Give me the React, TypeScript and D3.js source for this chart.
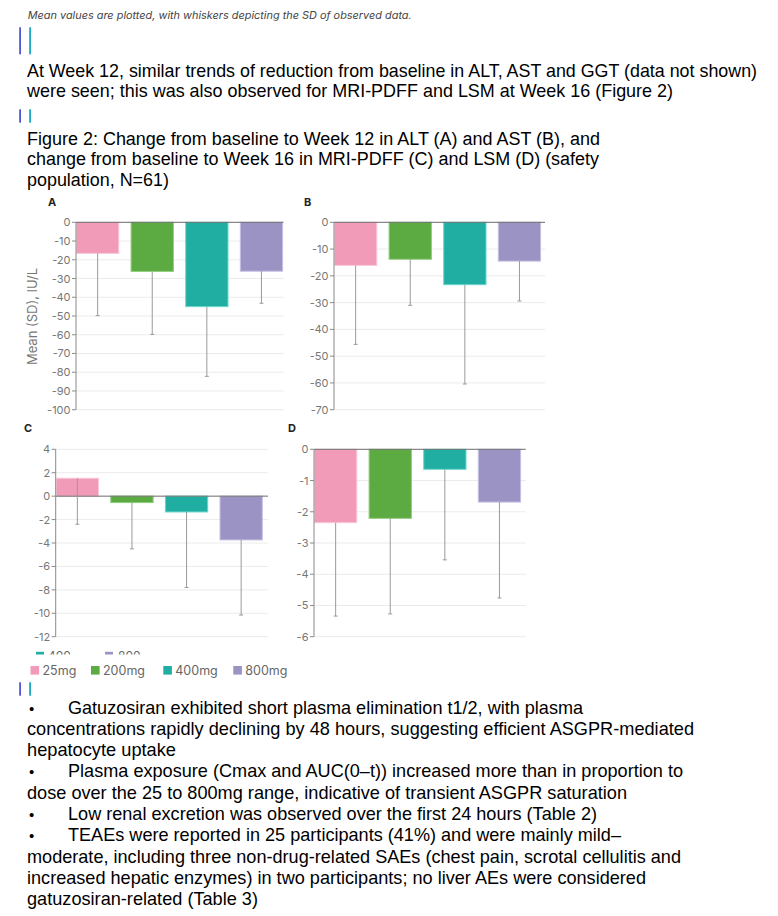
import React from 'react';
import * as d3 from 'd3';

const doses = ['25mg', '200mg', '400mg', '800mg'];
const doseColors = ['#f29bb9', '#5caa42', '#20aea2', '#9b93c4'];
const doseStroke = ['#f9c9da', '#8fcc7a', '#6ad6cb', '#c6c0e3'];

// Panel A: ALT change (IU/L)
const altMean = [-16.6, -26.2, -45.0, -26.1];
const altSD = [33.2, 33.6, 37.2, 17.1];
const altTicks = [0, -10, -20, -30, -40, -50, -60, -70, -80, -90, -100];
// Panel B: AST change (IU/L)
const astMean = [-16.1, -13.8, -23.3, -14.5];
const astSD = [29.5, 17.2, 37.1, 14.9];
const astTicks = [0, -10, -20, -30, -40, -50, -60, -70];
// Panel C: MRI-PDFF change
const pdffMean = [1.53, -0.55, -1.35, -3.74];
const pdffSD = [3.93, 3.95, 6.45, 6.41];
const pdffTicks = [4, 2, 0, -2, -4, -6, -8, -10, -12];
// Panel D: LSM change
const lsmMean = [-2.35, -2.21, -0.64, -1.69];
const lsmSD = [2.99, 3.06, 2.9, 3.07];
const lsmTicks = [0, -1, -2, -3, -4, -5, -6];

const noteText = 'Mean values are plotted, with whiskers depicting the SD of observed data.';
const introLines = [
  'At Week 12, similar trends of reduction from baseline in ALT, AST and GGT (data not shown)',
  'were seen; this was also observed for MRI-PDFF and LSM at Week 16 (Figure 2)',
];
const captionLines = [
  'Figure 2: Change from baseline to Week 12 in ALT (A) and AST (B), and',
  'change from baseline to Week 16 in MRI-PDFF (C) and LSM (D) (safety',
  'population, N=61)',
];
const bulletLines: [boolean, string][] = [
  [true, 'Gatuzosiran exhibited short plasma elimination t1/2, with plasma'],
  [false, 'concentrations rapidly declining by 48 hours, suggesting efficient ASGPR-mediated'],
  [false, 'hepatocyte uptake'],
  [true, 'Plasma exposure (Cmax and AUC(0\u2013t)) increased more than in proportion to'],
  [false, 'dose over the 25 to 800mg range, indicative of transient ASGPR saturation'],
  [true, 'Low renal excretion was observed over the first 24 hours (Table 2)'],
  [true, 'TEAEs were reported in 25 participants (41%) and were mainly mild\u2013'],
  [false, 'moderate, including three non-drug-related SAEs (chest pain, scrotal cellulitis and'],
  [false, 'increased hepatic enzymes) in two participants; no liver AEs were considered'],
  [false, 'gatuzosiran-related (Table 3)'],
];
const bulletEnds = [583, 694, 176, 683, 627, 597, 621, 681, 646, 258];

const CHART_FONT = 'Inter, "Noto Sans", sans-serif';
const BODY_FONT = '"Liberation Sans", Arial, sans-serif';

type PanelProps = {
  letter: string;
  letterX: number;
  letterY: number;
  x0: number;
  gridRight: number;
  yTop: number;
  yBottom: number;
  ticks: number[];
  means: number[];
  sds: number[];
};

function Panel(p: PanelProps) {
  const min = d3.min(p.ticks) as number;
  const max = d3.max(p.ticks) as number;
  const y = d3.scaleLinear().domain([min, max]).range([p.yBottom, p.yTop]);
  const x = d3.scaleBand<string>().domain(doses).range([p.x0, p.x0 + 207.1]).paddingInner(0.207).paddingOuter(0);
  const bw = x.bandwidth();
  return (
    <g>
      <text x={p.letterX} y={p.letterY} fontFamily={CHART_FONT} fontWeight={700} fontSize={11} fill="#222" dominantBaseline="central">
        {p.letter}
      </text>
      {p.ticks.filter((t) => t !== 0).map((t) => (
        <line key={'g' + t} x1={p.x0} x2={p.gridRight} y1={y(t)} y2={y(t)} stroke="#ebebeb" strokeWidth={1} />
      ))}
      {doses.map((d, i) => {
        const m = p.means[i];
        const top = y(Math.max(0, m));
        const h = Math.abs(y(m) - y(0));
        return (
          <rect key={'b' + d} x={(x(d) as number) + 0.5} y={top} width={bw - 1} height={h} fill={doseColors[i]} stroke={doseStroke[i]} strokeWidth={1} />
        );
      })}
      <line x1={p.x0} x2={p.gridRight} y1={y(0)} y2={y(0)} stroke="#6b6b6b" strokeWidth={1} />
      {doses.map((d, i) => {
        const cx = (x(d) as number) + bw / 2;
        const m = p.means[i];
        const lo = y(m - p.sds[i]);
        return (
          <g key={'w' + d}>
            <line x1={cx} x2={cx} y1={y(m)} y2={lo} stroke="#9a9a9a" strokeWidth={1} />
            <line x1={cx - 2} x2={cx + 2} y1={lo} y2={lo} stroke="#9a9a9a" strokeWidth={1} />
          </g>
        );
      })}
      <line x1={p.x0} x2={p.x0} y1={p.yTop} y2={p.yBottom} stroke="#8a8a8a" strokeWidth={1} />
      {p.ticks.map((t) => (
        <g key={'t' + t}>
          <line x1={p.x0 - 4} x2={p.x0} y1={y(t)} y2={y(t)} stroke="#8a8a8a" strokeWidth={1} />
          <text x={p.x0 - 5.5} y={y(t)} textAnchor="end" dominantBaseline="central" fontFamily={CHART_FONT} fontSize={11} fill="#777">
            {t}
          </text>
        </g>
      ))}
    </g>
  );
}

export default function App() {
  const legendX = [30.5, 91, 163.3, 233.3];
  const markers = [
    { y: 27.3, h: 27 },
    { y: 109.3, h: 13.4 },
    { y: 682.3, h: 13.4 },
  ];
  return (
    <svg width={778} height={916} style={{ position: 'absolute', left: 0, top: 0, display: 'block', background: '#fff' }}>
      <rect x={0} y={0} width={778} height={916} fill="#fff" />
      <defs>
        <clipPath id="legclip">
          <rect x={0} y={640} width={400} height={14.5} />
        </clipPath>
      </defs>
      <text x={27.7} y={19} fontFamily={CHART_FONT} fontStyle="italic" fontSize={10.5} fill="#444" textLength={384} lengthAdjust="spacingAndGlyphs">
        {noteText}
      </text>
      {markers.map((m) => (
        <g key={'bar' + m.y}>
          <rect x={19.2} y={m.y} width={1.8} height={m.h} fill="#5356d1" />
          <rect x={29.2} y={m.y} width={1.8} height={m.h} fill="#1aa8c4" />
        </g>
      ))}
      {introLines.map((l, i) => (
        <text key={'i' + i} x={27} y={76.7 + i * 20} fontFamily={BODY_FONT} fontSize={19} fill="#000" textLength={[730, 646][i]} lengthAdjust="spacingAndGlyphs">
          {l}
        </text>
      ))}
      {captionLines.map((l, i) => (
        <text key={'c' + i} x={27} y={145 + i * 20.3} fontFamily={BODY_FONT} fontSize={18} fill="#000" textLength={[573, 572, 142][i]} lengthAdjust="spacingAndGlyphs">
          {l}
        </text>
      ))}

      <Panel letter="A" letterX={48} letterY={202} x0={76} gridRight={283.5} yTop={222.3} yBottom={409.7} ticks={altTicks} means={altMean} sds={altSD} />
      <Panel letter="B" letterX={304} letterY={202} x0={334} gridRight={545} yTop={222.3} yBottom={409.7} ticks={astTicks} means={astMean} sds={astSD} />
      <Panel letter="C" letterX={24} letterY={428} x0={55.7} gridRight={268} yTop={449.3} yBottom={636.7} ticks={pdffTicks} means={pdffMean} sds={pdffSD} />
      <Panel letter="D" letterX={288} letterY={428} x0={314} gridRight={525.7} yTop={449.3} yBottom={636.7} ticks={lsmTicks} means={lsmMean} sds={lsmSD} />

      <text transform="translate(37,316.5) rotate(-90)" textAnchor="middle" fontFamily={CHART_FONT} fontSize={13} fill="#777">
        Mean (SD), IU/L
      </text>

      <g clipPath="url(#legclip)">
        {[2, 3].map((i) => (
          <g key={'lc' + i}>
            <rect x={[36, 105][i - 2]} y={651.8} width={8} height={8} fill={doseColors[i]} />
            <text x={[48, 118][i - 2]} y={659.8} fontFamily={CHART_FONT} fontSize={12} fill="#666">
              {doses[i].replace('mg', '')}
            </text>
          </g>
        ))}
      </g>
      {doses.map((d, i) => (
        <g key={'l' + d}>
          <rect x={legendX[i]} y={666} width={8.6} height={8.6} fill={doseColors[i]} />
          <text x={legendX[i] + 12} y={674.5} fontFamily={CHART_FONT} fontSize={12.5} fill="#666">
            {d}
          </text>
        </g>
      ))}

      {bulletLines.map(([b, l], i) => {
        const yy = 713.5 + i * 21.3;
        const xs = b ? 68 : 27;
        return (
          <g key={'bl' + i}>
            {b && (
              <text x={29} y={yy} fontFamily={BODY_FONT} fontSize={15} fill="#000">
                {'\u2022'}
              </text>
            )}
            <text x={xs} y={yy} fontFamily={BODY_FONT} fontSize={18.5} fill="#000" textLength={bulletEnds[i] - xs} lengthAdjust="spacingAndGlyphs">
              {l}
            </text>
          </g>
        );
      })}
    </svg>
  );
}
